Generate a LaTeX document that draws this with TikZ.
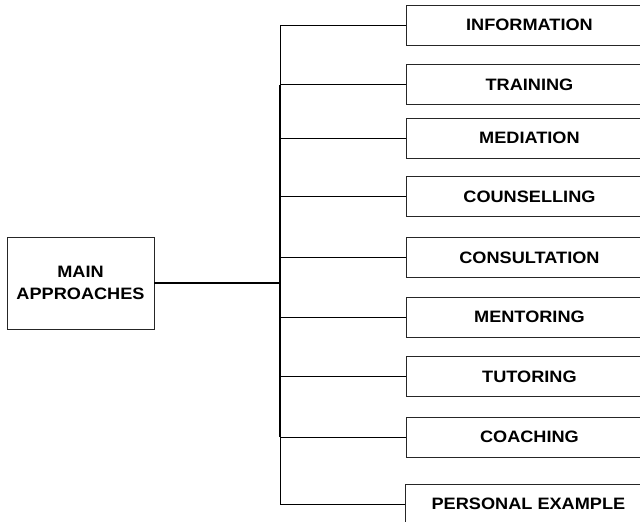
\documentclass[tikz,border=0pt]{standalone}
\usepackage{fontspec}
\setmainfont{Liberation Sans}
\usepackage{graphicx}
\usetikzlibrary{positioning,calc}

\newcommand{\wtxt}[1]{\scalebox{1.1}[1]{#1}}
\newcommand{\boxfont}{\fontsize{16.5}{22.4}\selectfont\bfseries}

\tikzset{
  approach/.style={draw=black!85, line width=0.9pt, minimum width=246pt, minimum height=40pt, inner sep=0pt, anchor=west, font=\boxfont},
  mainbox/.style={draw=black!85, line width=0.9pt, minimum width=147pt, minimum height=92pt, inner sep=0pt, align=center, font=\boxfont},
  branch/.style={line width=0.8pt},
}

\begin{document}
\begin{tikzpicture}[x=1pt,y=-1pt]
\useasboundingbox (0,0) rectangle (640,522);
\clip (0,0) rectangle (640,522);
% left box
\node[mainbox] (main) at (80.5,283) {\wtxt{MAIN}\\\wtxt{APPROACHES}};
% approaches on the right
\node[approach] (info) at (406,25) {\wtxt{INFORMATION}};
\node[approach] (train) at (406,84.5) {\wtxt{TRAINING}};
\node[approach] (medi) at (406,138) {\wtxt{MEDIATION}};
\node[approach] (couns) at (406,196.5) {\wtxt{COUNSELLING}};
\node[approach] (consult) at (406,257.5) {\wtxt{CONSULTATION}};
\node[approach] (mentor) at (406,317) {\wtxt{MENTORING}};
\node[approach] (tutor) at (406,376.5) {\wtxt{TUTORING}};
\node[approach] (coach) at (406,437) {\wtxt{COACHING}};
\node[approach] (pers) at (405,504) {\wtxt{PERSONAL EXAMPLE}};
% trunk
\coordinate (hub) at (280,283);
\draw[line width=1.6pt] (main.east) -- (main.east -| hub);
\draw[branch] (info.west -| hub) -- (pers.west -| hub);
\draw[line width=1.5pt] (train.west -| hub) -- (coach.west -| hub);
\foreach \b in {info,train,medi,couns,consult,mentor,tutor,coach,pers}
  \draw[branch] (\b.west) -- (\b.west -| hub);
\end{tikzpicture}
\end{document}
